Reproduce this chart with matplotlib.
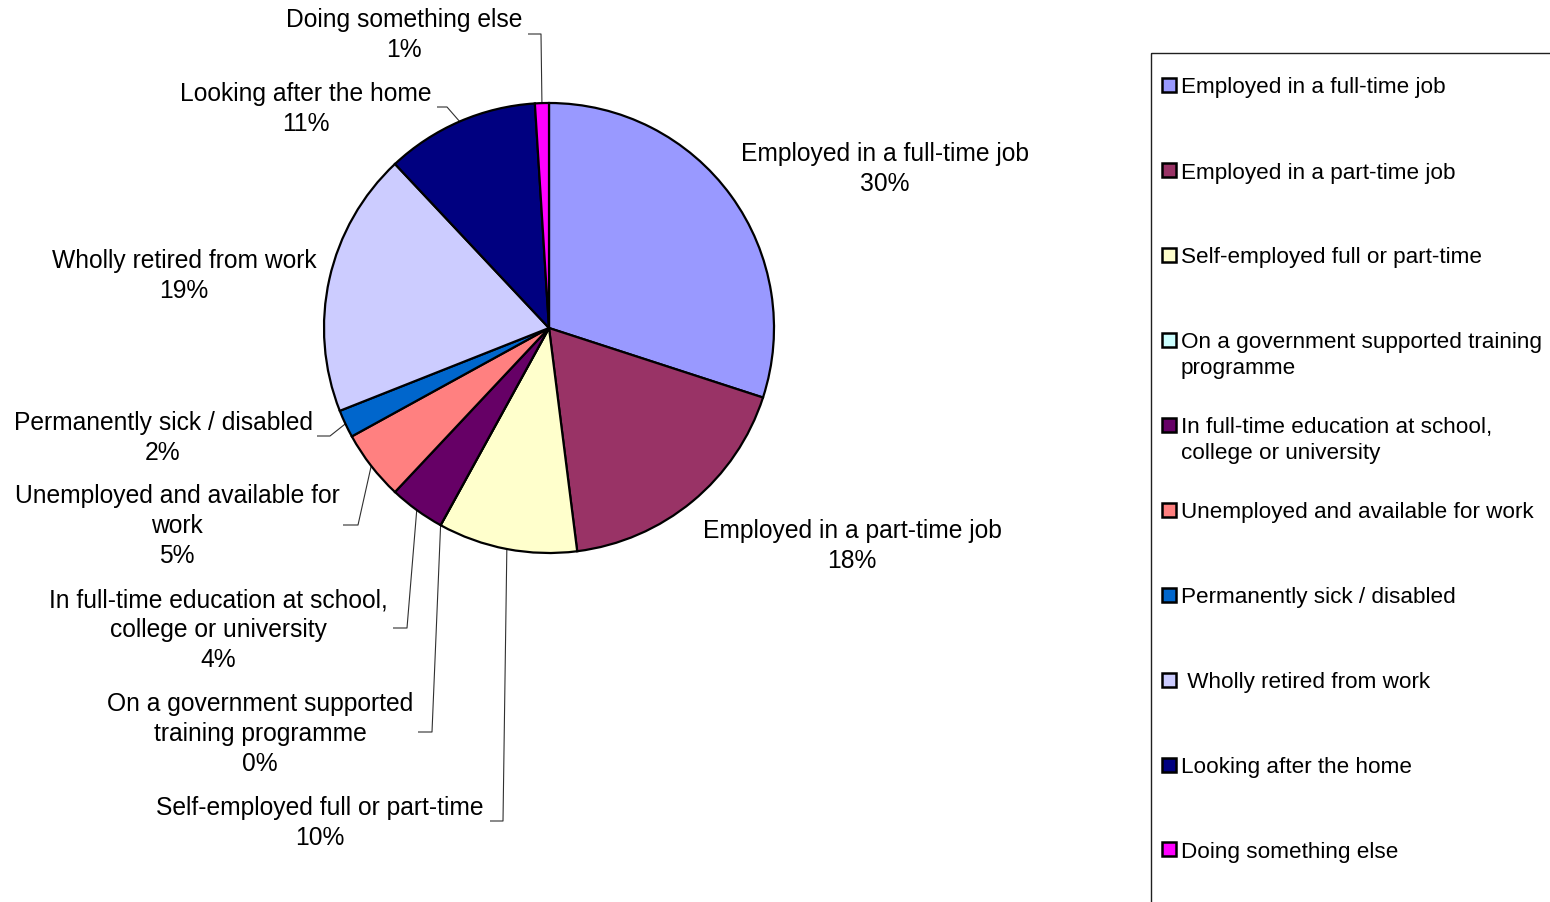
import matplotlib
matplotlib.use("Agg")
import matplotlib.pyplot as plt
from matplotlib.patches import Rectangle
import numpy as np

plt.rcParams['font.family'] = ['Liberation Sans', 'DejaVu Sans']

# ---- data -------------------------------------------------------------
categories = [
    "Employed in a full-time job",
    "Employed in a part-time job",
    "Self-employed full or part-time",
    "On a government supported training programme",
    "In full-time education at school, college or university",
    "Unemployed and available for work",
    "Permanently sick / disabled",
    "Wholly retired from work",
    "Looking after the home",
    "Doing something else",
]
percent = [30, 18, 10, 0, 4, 5, 2, 19, 11, 1]

# text shown next to each slice (line breaks as printed)
slice_labels = [
    "Employed in a full-time job",
    "Employed in a part-time job",
    "Self-employed full or part-time",
    "On a government supported\ntraining programme",
    "In full-time education at school,\ncollege or university",
    "Unemployed and available for\nwork",
    "Permanently sick / disabled",
    "Wholly retired from work",
    "Looking after the home",
    "Doing something else",
]
# text shown in the legend
legend_labels = [
    "Employed in a full-time job",
    "Employed in a part-time job",
    "Self-employed full or part-time",
    "On a government supported training\nprogramme",
    "In full-time education at school,\ncollege or university",
    "Unemployed and available for work",
    "Permanently sick / disabled",
    " Wholly retired from work",
    "Looking after the home",
    "Doing something else",
]

colors = ["#9999FF", "#993366", "#FFFFCC", "#CCFFFF", "#660066",
          "#FF8080", "#0066CC", "#CCCCFF", "#000080", "#FF00FF"]

# ---- layout (pixels, origin top-left) ---------------------------------
W, H = 1550, 903
cx, cy, R = 549, 329, 225

# label block centres
label_pos = [(885, 169), (852, 546), (320, 823), (260, 734), (218, 630),
             (177, 526), (163, 438), (184, 276), (306, 109), (404, 35)]
# leader lines: elbow point and end of horizontal tick (None = no leader)
leaders = [None, None, ((503, 822), (490, 822)), ((432, 733), (418, 733)),
           ((407, 629), (393, 629)), ((358, 526), (343, 526)),
           ((330, 437), (317, 437)), None, ((447, 108), (437, 108)),
           ((541, 35), (528, 35))]

fig = plt.figure(figsize=(W / 100, H / 100), dpi=100)
fig.patch.set_facecolor("white")

# overlay axes in pixel coordinates for labels, leaders and legend
ov = fig.add_axes([0, 0, 1, 1])
ov.set_xlim(0, W)
ov.set_ylim(H, 0)
ov.axis("off")

# pie axes placed so that data radius 1 == R pixels
axp = fig.add_axes([(cx - R) / W, (H - cy - R) / H, 2 * R / W, 2 * R / H])
wedges, _ = axp.pie(percent, colors=colors, startangle=90, counterclock=False,
                    radius=1.0, normalize=True,
                    wedgeprops=dict(edgecolor="black", linewidth=1.6))
axp.set_xlim(-1, 1)
axp.set_ylim(-1, 1)
axp.set_aspect("equal")
axp.axis("off")
for w in wedges:
    w.set_clip_on(False)

label_fs = 17.7
for i, w in enumerate(wedges):
    txt = f"{slice_labels[i]}\n{percent[i]}%"
    lx, ly = label_pos[i]
    ov.text(lx, ly, txt, ha="center", va="center", fontsize=label_fs,
            linespacing=1.3, color="black")
    if leaders[i] is not None:
        mid = np.deg2rad((w.theta1 + w.theta2) / 2)
        px, py = axp.transData.transform((np.cos(mid), np.sin(mid)))
        py = H - py
        (ex, ey), (tx, ty) = leaders[i]
        ov.plot([px, ex, tx], [py, ey, ty], color="#303030", lw=0.8,
                solid_capstyle="butt", zorder=1)

# ---- legend -----------------------------------------------------------
ov.add_patch(Rectangle((1151, 54), 500, 900, facecolor="none",
                       edgecolor="#202020", lw=1.0, zorder=2))
leg_fs = 16.2
for i, lab in enumerate(legend_labels):
    y0 = 86 + 85 * i
    ov.add_patch(Rectangle((1161.5, y0 - 7.5), 14, 14, facecolor=colors[i],
                           edgecolor="black", lw=1.8, zorder=3))
    for j, line in enumerate(lab.split("\n")):
        ov.text(1181, y0 + 2 + 26 * j, line, ha="left", va="center",
                fontsize=leg_fs, color="black")

fig.savefig("out.png", dpi=100, facecolor="white")
